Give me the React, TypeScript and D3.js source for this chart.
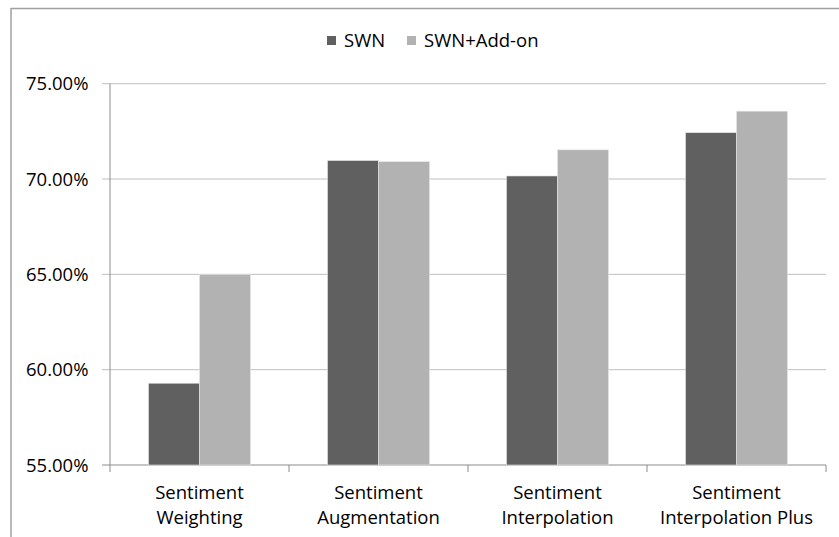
import * as d3 from 'd3';
import React from 'react';

const categories = [
  ['Sentiment', 'Weighting'],
  ['Sentiment', 'Augmentation'],
  ['Sentiment', 'Interpolation'],
  ['Sentiment', 'Interpolation Plus'],
];
const seriesNames = ['SWN', 'SWN+Add-on'];
const swnValues = [0.5929, 0.7097, 0.7016, 0.7243];
const addonValues = [0.65, 0.7091, 0.7153, 0.7356];
const yTicks = [0.55, 0.6, 0.65, 0.7, 0.75];
const colors = ['#606060', '#b2b2b2'];

const W = 839;
const H = 537;
const margin = { top: 83.7, right: 13, bottom: 72, left: 110 };
const font = "'Open Sans', 'DejaVu Sans', sans-serif";
const fs = 18.5;

const App: React.FC = () => {
  const innerW = W - margin.left - margin.right;
  const y = d3
    .scaleLinear()
    .domain([0.55, 0.75])
    .range([465, margin.top]);
  const x0 = d3
    .scaleBand<number>()
    .domain(categories.map((_, i) => i))
    .range([margin.left, margin.left + innerW])
    .paddingInner(0)
    .paddingOuter(0);
  const groupW = x0.bandwidth() * (102 / 179);
  const x1 = d3
    .scaleBand<number>()
    .domain([0, 1])
    .range([0, groupW]);
  const fmt = d3.format('.2%');
  const series = [swnValues, addonValues];
  const baseY = y(0.55);

  return (
    <svg
      width={W}
      height={H}
      style={{ position: 'absolute', left: 0, top: 0, background: '#fff' }}
      fontFamily={font}
    >
      {/* outer frame */}
      <line x1={11} x2={W} y1={8.5} y2={8.5} stroke="#a0a0a0" strokeWidth={1.5} />
      <line x1={11} x2={11} y1={8} y2={H} stroke="#a0a0a0" strokeWidth={1.5} />

      {/* grid */}
      {yTicks.map((t) => (
        <g key={t}>
          <line
            x1={margin.left - 8}
            x2={margin.left + innerW}
            y1={y(t)}
            y2={y(t)}
            stroke={t === 0.55 ? '#8c8c8c' : '#bfbfbf'}
            strokeWidth={1}
          />
          <text
            x={88.5}
            y={y(t)}
            dy="0.36em"
            textAnchor="end"
            fontSize={fs}
            fill="#000"
          >
            {fmt(t)}
          </text>
        </g>
      ))}

      {/* bars */}
      {categories.map((_, i) => {
        const gx = (x0(i) as number) + (x0.bandwidth() - groupW) / 2;
        return (
          <g key={i}>
            {series.map((vals, s) => (
              <rect
                key={s}
                x={gx + (x1(s) as number)}
                y={y(vals[i])}
                width={x1.bandwidth()}
                height={baseY - y(vals[i])}
                fill={colors[s]}
                stroke="#e6e6e6"
                strokeWidth={0.6}
              />
            ))}
          </g>
        );
      })}

      {/* axes */}
      <line
        x1={margin.left}
        x2={margin.left}
        y1={margin.top}
        y2={baseY}
        stroke="#8c8c8c"
      />
      {d3.range(categories.length + 1).map((i) => {
        const xx = i < categories.length ? (x0(i) as number) : margin.left + innerW;
        return (
          <line key={i} x1={xx} x2={xx} y1={baseY} y2={baseY + 7} stroke="#8c8c8c" />
        );
      })}
      {categories.map((lines, i) => (
        <text
          key={i}
          x={(x0(i) as number) + x0.bandwidth() / 2}
          y={499}
          textAnchor="middle"
          fontSize={fs}
          fill="#000"
        >
          {lines.map((l, k) => (
            <tspan key={k} x={(x0(i) as number) + x0.bandwidth() / 2} dy={k === 0 ? 0 : 25}>
              {l}
            </tspan>
          ))}
        </text>
      ))}

      {/* legend */}
      {seriesNames.map((name, s) => {
        const lx = s === 0 ? 327 : 407;
        return (
          <g key={name}>
            <rect x={lx} y={36} width={9} height={9} fill={colors[s]} />
            <text x={lx + 17} y={40.5} dy="0.36em" fontSize={fs} fill="#000">
              {name}
            </text>
          </g>
        );
      })}
    </svg>
  );
};

export default App;
